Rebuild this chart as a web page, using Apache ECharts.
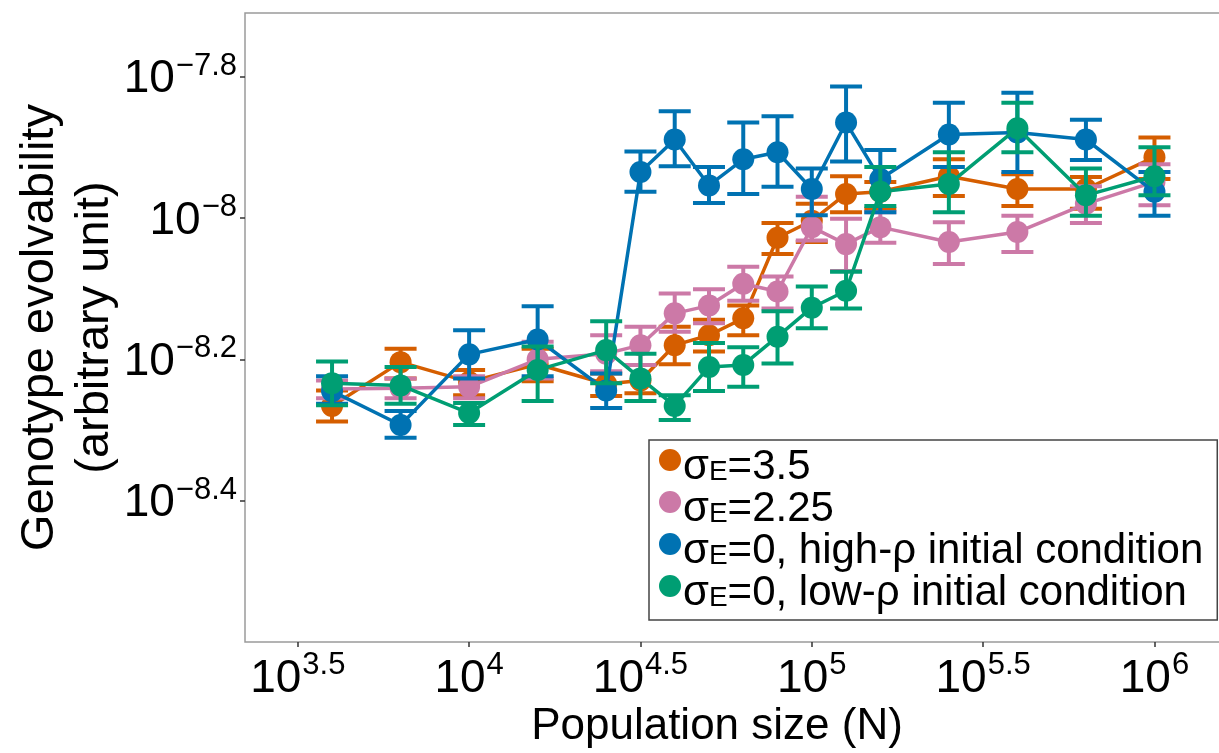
<!DOCTYPE html>
<html>
<head>
<meta charset="utf-8">
<script src="https://cdn.jsdelivr.net/npm/echarts@6/dist/echarts.min.js"></script>
<style>
  html, body { margin: 0; padding: 0; background: #fff; }
  #chart { width: 1219px; height: 753px; }
</style>
</head>
<body>
<div id="chart"></div>
<script>
// log10 of population size
const logN = [3.6, 3.8, 4.0, 4.2, 4.4, 4.5, 4.6, 4.7, 4.8, 4.9, 5.0, 5.1, 5.2, 5.4, 5.6, 5.8, 6.0]
const xTicks = [3.5, 4, 4.5, 5, 5.5, 6]
const yTicks = [-8.4, -8.2, -8.0, -7.8]

// log10 of evolvability: mean, lower end, upper end of error bar
const orangeMean = [-8.266, -8.204, -8.232, -8.207, -8.235, -8.230, -8.180, -8.166, -8.142, -8.028, -8.004, -7.966, -7.963, -7.941, -7.959, -7.959, -7.914]
const orangeLow  = [-8.288, -8.227, -8.251, -8.231, -8.252, -8.248, -8.207, -8.189, -8.166, -8.051, -8.034, -7.992, -7.987, -7.969, -7.983, -7.987, -7.945]
const orangeHigh = [-8.244, -8.185, -8.215, -8.185, -8.220, -8.208, -8.154, -8.144, -8.124, -8.007, -7.980, -7.941, -7.949, -7.917, -7.938, -7.942, -7.886]

const pinkMean = [-8.242, -8.241, -8.239, -8.200, -8.192, -8.180, -8.135, -8.124, -8.093, -8.104, -8.013, -8.037, -8.013, -8.034, -8.020, -7.980, -7.949]
const pinkLow  = [-8.255, -8.255, -8.255, -8.227, -8.217, -8.208, -8.161, -8.149, -8.117, -8.128, -8.032, -8.075, -8.035, -8.065, -8.048, -8.007, -7.982]
const pinkHigh = [-8.230, -8.227, -8.224, -8.175, -8.166, -8.154, -8.107, -8.101, -8.069, -8.083, -7.970, -8.001, -7.992, -8.006, -7.997, -7.955, -7.924]

const blueMean = [-8.245, -8.293, -8.193, -8.172, -8.244, -7.935, -7.889, -7.954, -7.917, -7.907, -7.959, -7.865, -7.945, -7.882, -7.879, -7.889, -7.963]
const blueLow  = [-8.263, -8.311, -8.227, -8.224, -8.269, -7.963, -7.927, -7.979, -7.966, -7.956, -7.996, -7.920, -7.992, -7.928, -7.935, -7.918, -7.997]
const blueHigh = [-8.224, -8.273, -8.159, -8.125, -8.220, -7.906, -7.849, -7.928, -7.865, -7.856, -7.930, -7.814, -7.904, -7.837, -7.823, -7.861, -7.935]

const greenMean = [-8.234, -8.237, -8.276, -8.215, -8.187, -8.227, -8.266, -8.211, -8.208, -8.168, -8.127, -8.103, -7.963, -7.952, -7.873, -7.968, -7.941]
const greenLow  = [-8.265, -8.263, -8.293, -8.259, -8.234, -8.259, -8.286, -8.245, -8.239, -8.206, -8.156, -8.128, -7.983, -7.992, -7.907, -7.997, -7.968]
const greenHigh = [-8.203, -8.211, -8.262, -8.182, -8.146, -8.192, -8.251, -8.177, -8.183, -8.132, -8.097, -8.076, -7.928, -7.907, -7.837, -7.930, -7.900]

const groups = [
  { name: 'o', label: '{t|σ}{s|E}{t|=3.5}', color: '#D55E00', mean: orangeMean, low: orangeLow, high: orangeHigh },
  { name: 'p', label: '{t|σ}{s|E}{t|=2.25}', color: '#CC79A7', mean: pinkMean, low: pinkLow, high: pinkHigh },
  { name: 'b', label: '{t|σ}{s|E}{t|=0, high-ρ initial condition}', color: '#0072B2', mean: blueMean, low: blueLow, high: blueHigh },
  { name: 'g', label: '{t|σ}{s|E}{t|=0, low-ρ initial condition}', color: '#009E73', mean: greenMean, low: greenLow, high: greenHigh }
]

const font = '"Liberation Sans", Arial, sans-serif'

const powLabel = (v) => {
  const e = Math.round(v * 10) / 10
  const s = (e % 1 === 0 ? String(e) : e.toFixed(1)).replace('-', '\u2212')
  return '{b|10}{e|' + s + '}'
}

const powRich = {
  b: { fontSize: 46, fontFamily: font, color: '#000', lineHeight: 52, verticalAlign: 'bottom' },
  e: { fontSize: 31, fontFamily: font, color: '#000', lineHeight: 52, verticalAlign: 'top', padding: [0, 0, 0, 1] }
}

const series = []
groups.forEach((g, gi) => {
  series.push({
    name: g.name + '-err',
    type: 'custom',
    z: 2 + gi * 2,
    data: logN.map((x, i) => [x, g.low[i], g.high[i]]),
    renderItem: (params, api) => {
      const lo = api.coord([api.value(0), api.value(1)])
      const hi = api.coord([api.value(0), api.value(2)])
      const hw = 16
      const style = { stroke: g.color, lineWidth: 4 }
      return {
        type: 'group',
        children: [
          { type: 'line', shape: { x1: lo[0], y1: lo[1], x2: hi[0], y2: hi[1] }, style },
          { type: 'line', shape: { x1: lo[0] - hw, y1: lo[1], x2: lo[0] + hw, y2: lo[1] }, style },
          { type: 'line', shape: { x1: hi[0] - hw, y1: hi[1], x2: hi[0] + hw, y2: hi[1] }, style }
        ]
      }
    }
  })
  series.push({
    name: g.name,
    type: 'line',
    z: 3 + gi * 2,
    data: logN.map((x, i) => [x, g.mean[i]]),
    symbol: 'circle',
    symbolSize: 22,
    lineStyle: { color: g.color, width: 3.5 },
    itemStyle: { color: g.color }
  })
})

const chart = echarts.init(document.getElementById('chart'))
chart.setOption({
  animation: false,
  grid: {
    left: 245, top: 13, right: -4, bottom: 111,
    outerBoundsMode: 'none',
    show: true, borderColor: '#9a9a9a', borderWidth: 1.5
  },
  legend: {
    orient: 'vertical',
    left: 649, top: 440,
    padding: [6, 14, 6, 10],
    itemGap: 0,
    itemWidth: 22, itemHeight: 22,
    icon: 'circle',
    backgroundColor: '#fff',
    borderColor: '#444', borderWidth: 1.5,
    data: groups.map(g => ({ name: g.name, itemStyle: { color: g.color } })),
    formatter: (name) => groups.find(g => g.name === name).label,
    textStyle: {
      padding: [0, 0, 0, -3],
      rich: {
        t: { fontSize: 42, fontFamily: font, color: '#000', lineHeight: 28, verticalAlign: 'top' },
        s: { fontSize: 28, fontFamily: font, color: '#000', lineHeight: 28, verticalAlign: 'top', padding: [12, 0, 0, 0] }
      }
    }
  },
  xAxis: {
    type: 'value',
    min: 3.346, max: 6.2,
    name: 'Population size (N)',
    nameLocation: 'middle',
    nameGap: 63,
    nameMoveOverlap: false,
    nameTextStyle: { fontSize: 44, fontFamily: font, color: '#000', padding: [0, 34, 0, 0] },
    axisLine: { show: false },
    axisTick: { show: true, customValues: xTicks, length: 5, lineStyle: { color: '#333', width: 1.5 } },
    axisLabel: { customValues: xTicks, margin: 8, formatter: powLabel, rich: powRich },
    splitLine: { show: false }
  },
  yAxis: {
    type: 'value',
    min: -8.6, max: -7.71,
    name: 'Genotype evolvability\n(arbitrary unit)',
    nameLocation: 'middle',
    nameGap: 122,
    nameMoveOverlap: false,
    nameTextStyle: { fontSize: 47, fontFamily: font, color: '#000', lineHeight: 55 },
    axisLine: { show: false },
    axisTick: { show: true, customValues: yTicks, length: 5, lineStyle: { color: '#333', width: 1.5 } },
    axisLabel: { customValues: yTicks, margin: 8, formatter: powLabel, rich: powRich },
    splitLine: { show: false }
  },
  series
})
window.addEventListener('resize', () => chart.resize())
</script>
</body>
</html>
